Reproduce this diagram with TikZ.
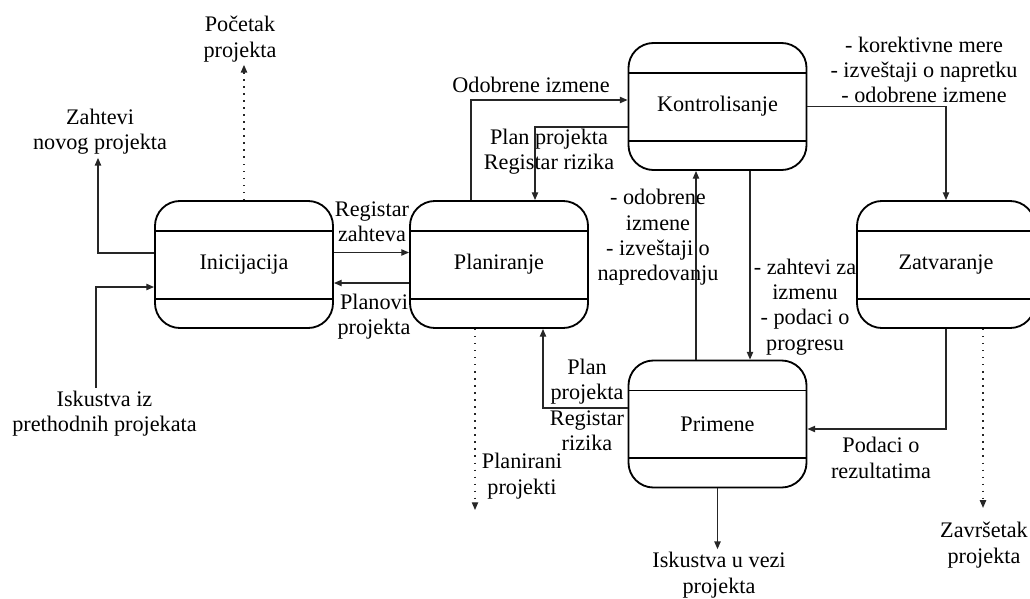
\documentclass[tikz,border=0pt]{standalone}
\usepackage{fontspec}
\setmainfont{Liberation Serif}
\usetikzlibrary{calc,arrows.meta}

\begin{document}
\begin{tikzpicture}[x=0.025cm,y=0.025cm]
		\tikzstyle{every node}+=[font=\fontsize{15.8}{18}\selectfont]
		\tikzstyle{lbl}=[inner sep=2pt, align=center]
		\tikzstyle{phase}=[draw, line width=1.3pt, rounded corners=0.625cm, minimum width=4.45cm, minimum height=3.175cm,
			path picture={
				\draw[line width=1.3pt] ([yshift=-0.75cm]path picture bounding box.north west) -- ([yshift=-0.75cm]path picture bounding box.north east);
				\draw[line width=1.3pt] ([yshift=0.73cm]path picture bounding box.south west) -- ([yshift=0.73cm]path picture bounding box.south east);}]
		\tikzstyle{flow}=[draw=black!85, line width=0.9pt, -{Triangle[length=5.5pt,width=4.5pt]}]
		\tikzstyle{dflow}=[flow, dash pattern=on 1pt off 4pt]
		\useasboundingbox (0,0) rectangle (1030,-598);
		% faze
		\node [phase] (ini) at (244,-264.5) {Inicijacija};
		\node [phase] (plan) at (499,-264.5) {Planiranje};
		\node [phase] (kon) at (717.5,-106.5) {Kontrolisanje};
		\node [phase] (pri) at (717.5,-424) {Primene};
		\node [phase] (zat) at (946,-264.5) {Zatvaranje};
		% oznake
		\node [lbl] (pocetak) at (240,-39) {Početak\\projekta};
		\node [lbl] (zahtevi) at (100,-132) {Zahtevi\\novog projekta};
		\node [lbl] (iskpre) at (104.5,-413.5) {Iskustva iz\\prethodnih projekata};
		\node [lbl] (regz) at (372,-222) {Registar\\zahteva};
		\node [lbl] (planovi) at (374,-316.5) {Planovi\\projekta};
		\node [lbl] (odobr) at (531,-84.5) {Odobrene izmene};
		\node [lbl] (planreg) at (549,-151.5) {Plan projekta\\Registar rizika};
		\node [lbl] (korekt) at (924,-70) {- korektivne mere\\- izveštaji o napretku\\- odobrene izmene};
		\node [lbl] (izvest) at (658,-237.5) {- odobrene\\izmene\\- izveštaji o\\napredovanju};
		\node [lbl] (zahtizm) at (805,-307) {- zahtevi za\\izmenu\\- podaci o\\progresu};
		\node [lbl] (planrizik) at (587,-405) {Plan\\projekta\\Registar\\rizika};
		\node [lbl] (planirani) at (522,-476) {Planirani\\projekti};
		\node [lbl] (iskvez) at (719,-575) {Iskustva u vezi\\projekta};
		\node [lbl] (podaci) at (881,-458) {Podaci o\\rezultatima};
		\node [lbl] (zavrsetak) at (984,-545) {Završetak\\projekta};
		% tacke loma
		\coordinate (zb) at (98,-253);
		\coordinate (ib) at (96,-287);
		\coordinate (pe) at (475,-510);
		\coordinate (zd) at ($(zat.south)+(37,0)$);
		% veze
		\draw [flow] (ini.west |- zb) -- (zb) -- (zb |- zahtevi.south);
		\draw [flow] (iskpre.north -| ib) -- (ib) -- (ini.west |- ib);
		\draw [dflow] (ini.north) -- (ini.north |- pocetak.south);
		\draw [flow] ($(ini.east)+(0,12)$) -- ($(plan.west)+(0,12)$);
		\draw [flow] ($(plan.west)+(0,-18.5)$) -- ($(ini.east)+(0,-18.5)$);
		\draw [flow] ($(plan.north)+(-28,0)$) |- ($(kon.west)+(0,6.5)$);
		\draw [flow] ($(kon.west)+(0,-20.5)$) -| ($(plan.north)+(36,0)$);
		\draw [flow] (kon.east) -| (zat.north);
		\draw [flow] ($(pri.north)+(-21.5,0)$) -- ($(kon.south)+(-21.5,0)$);
		\draw [flow] ($(kon.south)+(32.5,0)$) -- ($(pri.north)+(32.5,0)$);
		\draw [flow] ($(pri.west)+(0,16)$) -| ($(plan.south)+(44,0)$);
		\draw [dflow] ($(plan.south)+(-24,0)$) -- (pe);
		\draw [flow] (pri.south) -- (pri.south |- iskvez.north);
		\draw [flow] (zat.south) |- ($(pri.east)+(0,-5)$);
		\draw [dflow, shorten >=8pt] (zd) -- (zd |- zavrsetak.north);
\end{tikzpicture}
\end{document}
